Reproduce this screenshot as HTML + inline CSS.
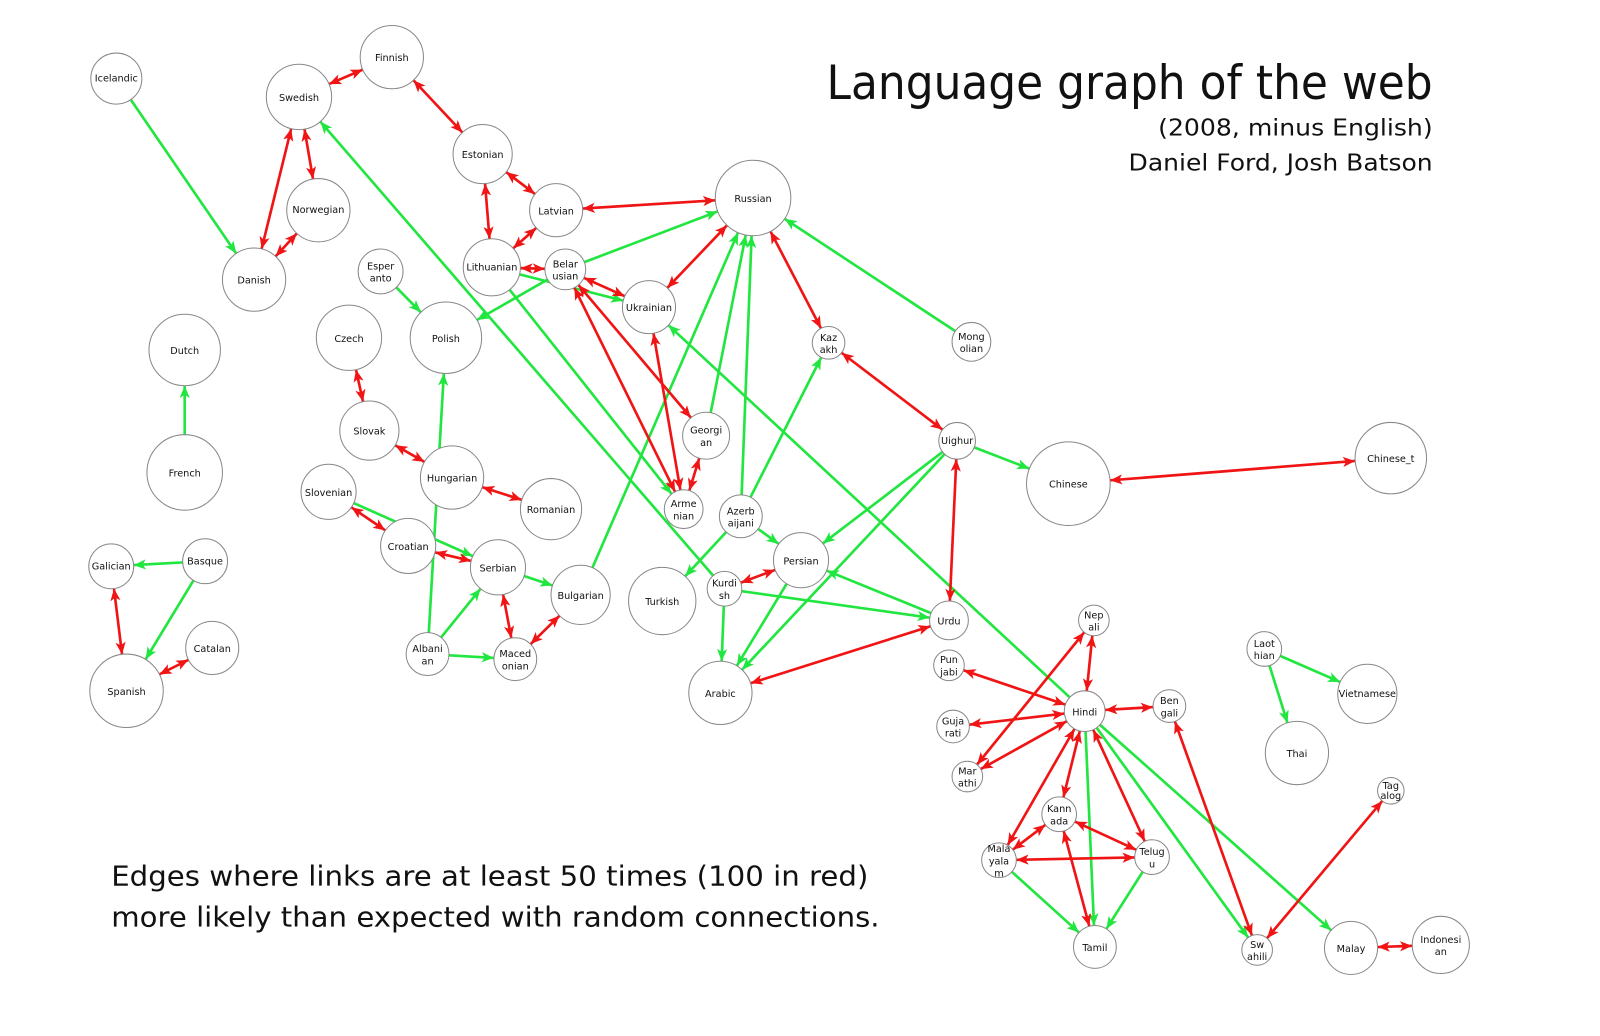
<!DOCTYPE html>
<html><head><meta charset="utf-8"><style>
html,body{margin:0;padding:0;background:#fff;}
svg{display:block;}
text{font-family:"DejaVu Sans","Liberation Sans",sans-serif;fill:#111;}
.n circle{fill:#fff;stroke:#888;stroke-width:1;}
.n text{text-anchor:middle;font-size:9.5px;}
</style></head><body>
<svg id="s" width="1600" height="1036" viewBox="0 0 1568 1015.3" preserveAspectRatio="none" xmlns="http://www.w3.org/2000/svg">
<defs>
<marker id="ar" viewBox="0 0 12 10" refX="12" refY="5" markerWidth="12" markerHeight="10" markerUnits="userSpaceOnUse" orient="auto-start-reverse"><path d="M0,0 L12,5 L0,10 L3,5 Z" fill="#f01414"/></marker>
<marker id="ag" viewBox="0 0 12 10" refX="12" refY="5" markerWidth="12" markerHeight="10" markerUnits="userSpaceOnUse" orient="auto"><path d="M0,0 L12,5 L0,10 L3,5 Z" fill="#22e640"/></marker>
</defs>
<g id="edges"></g>
<text x="1404" y="97" font-size="46" text-anchor="end" textLength="594" lengthAdjust="spacingAndGlyphs">Language graph of the web</text>
<text x="1404" y="133" font-size="23" text-anchor="end" textLength="269" lengthAdjust="spacingAndGlyphs">(2008, minus English)</text>
<text x="1404" y="167" font-size="23" text-anchor="end" textLength="298" lengthAdjust="spacingAndGlyphs">Daniel Ford, Josh Batson</text>
<text x="109" y="868" font-size="27" textLength="742" lengthAdjust="spacingAndGlyphs">Edges where links are at least 50 times (100 in red)</text>
<text x="109" y="908" font-size="27" textLength="753" lengthAdjust="spacingAndGlyphs">more likely than expected with random connections.</text>
<g class="n">
<circle cx="114" cy="77" r="25"/><text x="114" y="80" font-size="7.5">Icelandic</text>
<circle cx="384" cy="56" r="31"/><text x="384" y="60">Finnish</text>
<circle cx="293" cy="95" r="32"/><text x="293" y="99">Swedish</text>
<circle cx="312" cy="206" r="31"/><text x="312" y="209" font-size="8.5">Norwegian</text>
<circle cx="249" cy="274" r="31"/><text x="249" y="278">Danish</text>
<circle cx="473" cy="151" r="29"/><text x="473" y="155" font-size="9">Estonian</text>
<circle cx="545" cy="206" r="26"/><text x="545" y="210">Latvian</text>
<circle cx="482" cy="262" r="28"/><text x="482" y="265" font-size="8">Lithuanian</text>
<circle cx="554" cy="264" r="20"/><text x="554" y="262">Belar</text><text x="554" y="274">usian</text>
<circle cx="373" cy="266" r="22"/><text x="373" y="264">Esper</text><text x="373" y="276">anto</text>
<circle cx="636" cy="301" r="26"/><text x="636" y="305" font-size="8.5">Ukrainian</text>
<circle cx="437" cy="331" r="35"/><text x="437" y="335">Polish</text>
<circle cx="342" cy="331" r="32"/><text x="342" y="335">Czech</text>
<circle cx="738" cy="194" r="37"/><text x="738" y="198">Russian</text>
<circle cx="812" cy="336" r="16"/><text x="812" y="334">Kaz</text><text x="812" y="346">akh</text>
<circle cx="952" cy="335" r="19"/><text x="952" y="333">Mong</text><text x="952" y="345">olian</text>
<circle cx="181" cy="343" r="35"/><text x="181" y="347">Dutch</text>
<circle cx="181" cy="463" r="37"/><text x="181" y="467">French</text>
<circle cx="362" cy="422" r="29"/><text x="362" y="426">Slovak</text>
<circle cx="443" cy="468" r="31"/><text x="443" y="472" font-size="9">Hungarian</text>
<circle cx="540" cy="499" r="30"/><text x="540" y="503" font-size="9">Romanian</text>
<circle cx="322" cy="482" r="27"/><text x="322" y="486" font-size="8.5">Slovenian</text>
<circle cx="400" cy="535" r="27"/><text x="400" y="539" font-size="9">Croatian</text>
<circle cx="488" cy="556" r="27"/><text x="488" y="560">Serbian</text>
<circle cx="569" cy="583" r="29"/><text x="569" y="587">Bulgarian</text>
<circle cx="692" cy="427" r="23"/><text x="692" y="425">Georgi</text><text x="692" y="437">an</text>
<circle cx="670" cy="499" r="19"/><text x="670" y="497">Arme</text><text x="670" y="509">nian</text>
<circle cx="726" cy="506" r="21"/><text x="726" y="504">Azerb</text><text x="726" y="516">aijani</text>
<circle cx="785" cy="549" r="27"/><text x="785" y="553">Persian</text>
<circle cx="649" cy="589" r="33"/><text x="649" y="593">Turkish</text>
<circle cx="710" cy="577" r="17"/><text x="710" y="575">Kurdi</text><text x="710" y="587">sh</text>
<circle cx="419" cy="641" r="21"/><text x="419" y="639">Albani</text><text x="419" y="651">an</text>
<circle cx="505" cy="646" r="21"/><text x="505" y="644">Maced</text><text x="505" y="656">onian</text>
<circle cx="706" cy="679" r="31"/><text x="706" y="683">Arabic</text>
<circle cx="938" cy="432" r="18"/><text x="938" y="435" font-size="7.5">Uighur</text>
<circle cx="1047" cy="474" r="41"/><text x="1047" y="478">Chinese</text>
<circle cx="1363" cy="449" r="35"/><text x="1363" y="453">Chinese_t</text>
<circle cx="930" cy="608" r="19"/><text x="930" y="612">Urdu</text>
<circle cx="109" cy="555" r="22"/><text x="109" y="558" font-size="7.5">Galician</text>
<circle cx="201" cy="550" r="22"/><text x="201" y="553" font-size="8.5">Basque</text>
<circle cx="208" cy="635" r="26"/><text x="208" y="639">Catalan</text>
<circle cx="124" cy="677" r="36"/><text x="124" y="681">Spanish</text>
<circle cx="1072" cy="608" r="15"/><text x="1072" y="606">Nep</text><text x="1072" y="618">ali</text>
<circle cx="930" cy="652" r="15"/><text x="930" y="650">Pun</text><text x="930" y="662">jabi</text>
<circle cx="1063" cy="697" r="20"/><text x="1063" y="701">Hindi</text>
<circle cx="1146" cy="692" r="16"/><text x="1146" y="690">Ben</text><text x="1146" y="702">gali</text>
<circle cx="934" cy="712" r="16"/><text x="934" y="710">Guja</text><text x="934" y="722">rati</text>
<circle cx="948" cy="761" r="15"/><text x="948" y="759">Mar</text><text x="948" y="771">athi</text>
<circle cx="1038" cy="798" r="17"/><text x="1038" y="796">Kann</text><text x="1038" y="808">ada</text>
<circle cx="979" cy="843" r="17"/><text x="979" y="835">Mala</text><text x="979" y="847">yala</text><text x="979" y="859">m</text>
<circle cx="1129" cy="840" r="17"/><text x="1129" y="838">Telug</text><text x="1129" y="850">u</text>
<circle cx="1073" cy="928" r="21"/><text x="1073" y="932">Tamil</text>
<circle cx="1232" cy="931" r="15"/><text x="1232" y="929">Sw</text><text x="1232" y="941">ahili</text>
<circle cx="1324" cy="929" r="26"/><text x="1324" y="933">Malay</text>
<circle cx="1412" cy="926" r="28"/><text x="1412" y="924">Indonesi</text><text x="1412" y="936">an</text>
<circle cx="1363" cy="775" r="13"/><text x="1363" y="773" font-size="8">Tag</text><text x="1363" y="783" font-size="8">alog</text>
<circle cx="1239" cy="636" r="17"/><text x="1239" y="634">Laot</text><text x="1239" y="646">hian</text>
<circle cx="1340" cy="680" r="29"/><text x="1340" y="683" font-size="7">Vietnamese</text>
<circle cx="1271" cy="738" r="31"/><text x="1271" y="742">Thai</text>
</g>
</svg>
<script>
var N={Icelandic:[114,77,25],Finnish:[384,56,31],Swedish:[293,95,32],Norwegian:[312,206,31],Danish:[249,274,31],Estonian:[473,151,29],Latvian:[545,206,26],Lithuanian:[482,262,28],Belarusian:[554,264,20],Esperanto:[373,266,22],Ukrainian:[636,301,26],Polish:[437,331,35],Czech:[342,331,32],Russian:[738,194,37],Kazakh:[812,336,16],Mongolian:[952,335,19],Dutch:[181,343,35],French:[181,463,37],Slovak:[362,422,29],Hungarian:[443,468,31],Romanian:[540,499,30],Slovenian:[322,482,27],Croatian:[400,535,27],Serbian:[488,556,27],Bulgarian:[569,583,29],Georgian:[692,427,23],Armenian:[670,499,19],Azerbaijani:[726,506,21],Persian:[785,549,27],Turkish:[649,589,33],Kurdish:[710,577,17],Albanian:[419,641,21],Macedonian:[505,646,21],Arabic:[706,679,31],Uighur:[938,432,18],Chinese:[1047,474,41],Chinese_t:[1363,449,35],Urdu:[930,608,19],Galician:[109,555,22],Basque:[201,550,22],Catalan:[208,635,26],Spanish:[124,677,36],Nepali:[1072,608,15],Punjabi:[930,652,15],Hindi:[1063,697,20],Bengali:[1146,692,16],Gujarati:[934,712,16],Marathi:[948,761,15],Kannada:[1038,798,17],Malayalam:[979,843,17],Telugu:[1129,840,17],Tamil:[1073,928,21],Swahili:[1232,931,15],Malay:[1324,929,26],Indonesian:[1412,926,28],Tagalog:[1363,775,13],Laothian:[1239,636,17],Vietnamese:[1340,680,29],Thai:[1271,738,31]};
var G="Icelandic>Danish Kurdish>Swedish Esperanto>Polish Belarusian>Russian Belarusian>Polish Lithuanian>Ukrainian Lithuanian>Armenian Bulgarian>Russian Georgian>Russian Azerbaijani>Russian Azerbaijani>Kazakh Azerbaijani>Persian Azerbaijani>Turkish Mongolian>Russian Hindi>Ukrainian French>Dutch Slovenian>Serbian Albanian>Polish Albanian>Serbian Albanian>Macedonian Serbian>Bulgarian Basque>Galician Basque>Spanish Uighur>Chinese Uighur>Persian Uighur>Arabic Kurdish>Urdu Kurdish>Arabic Urdu>Persian Persian>Arabic Hindi>Tamil Hindi>Swahili Hindi>Malay Malayalam>Tamil Telugu>Tamil Laothian>Vietnamese Laothian>Thai".split(" ");
var R="Swedish-Finnish Finnish-Estonian Swedish-Danish Swedish-Norwegian Norwegian-Danish Estonian-Latvian Estonian-Lithuanian Latvian-Lithuanian Latvian-Russian Lithuanian-Belarusian Belarusian-Ukrainian Belarusian-Georgian Belarusian-Armenian Ukrainian-Armenian Russian-Ukrainian Russian-Kazakh Kazakh-Uighur Uighur-Urdu Chinese-Chinese_t Georgian-Armenian Czech-Slovak Slovak-Hungarian Hungarian-Romanian Slovenian-Croatian Croatian-Serbian Serbian-Macedonian Macedonian-Bulgarian Kurdish-Persian Urdu-Arabic Galician-Spanish Spanish-Catalan Hindi-Nepali Hindi-Punjabi Hindi-Gujarati Hindi-Marathi Hindi-Bengali Hindi-Kannada Hindi-Malayalam Hindi-Telugu Nepali-Marathi Kannada-Malayalam Kannada-Telugu Kannada-Tamil Malayalam-Telugu Bengali-Swahili Swahili-Tagalog Malay-Indonesian".split(" ");
var g=document.getElementById("edges"),ns="http://www.w3.org/2000/svg";
function line(a,b,red){var A=N[a],B=N[b],dx=B[0]-A[0],dy=B[1]-A[1],d=Math.sqrt(dx*dx+dy*dy),ux=dx/d,uy=dy/d;
var l=document.createElementNS(ns,"line");
l.setAttribute("x1",A[0]+ux*A[2]);l.setAttribute("y1",A[1]+uy*A[2]);
l.setAttribute("x2",B[0]-ux*B[2]);l.setAttribute("y2",B[1]-uy*B[2]);
l.setAttribute("stroke",red?"#f01414":"#22e640");l.setAttribute("stroke-width","2.6");
if(red){l.setAttribute("marker-start","url(#ar)");l.setAttribute("marker-end","url(#ar)");}else l.setAttribute("marker-end","url(#ag)");
g.appendChild(l);}
G.forEach(function(e){var p=e.split(">");line(p[0],p[1],false);});
R.forEach(function(e){var p=e.split("-");line(p[0],p[1],true);});
</script>
</body></html>
